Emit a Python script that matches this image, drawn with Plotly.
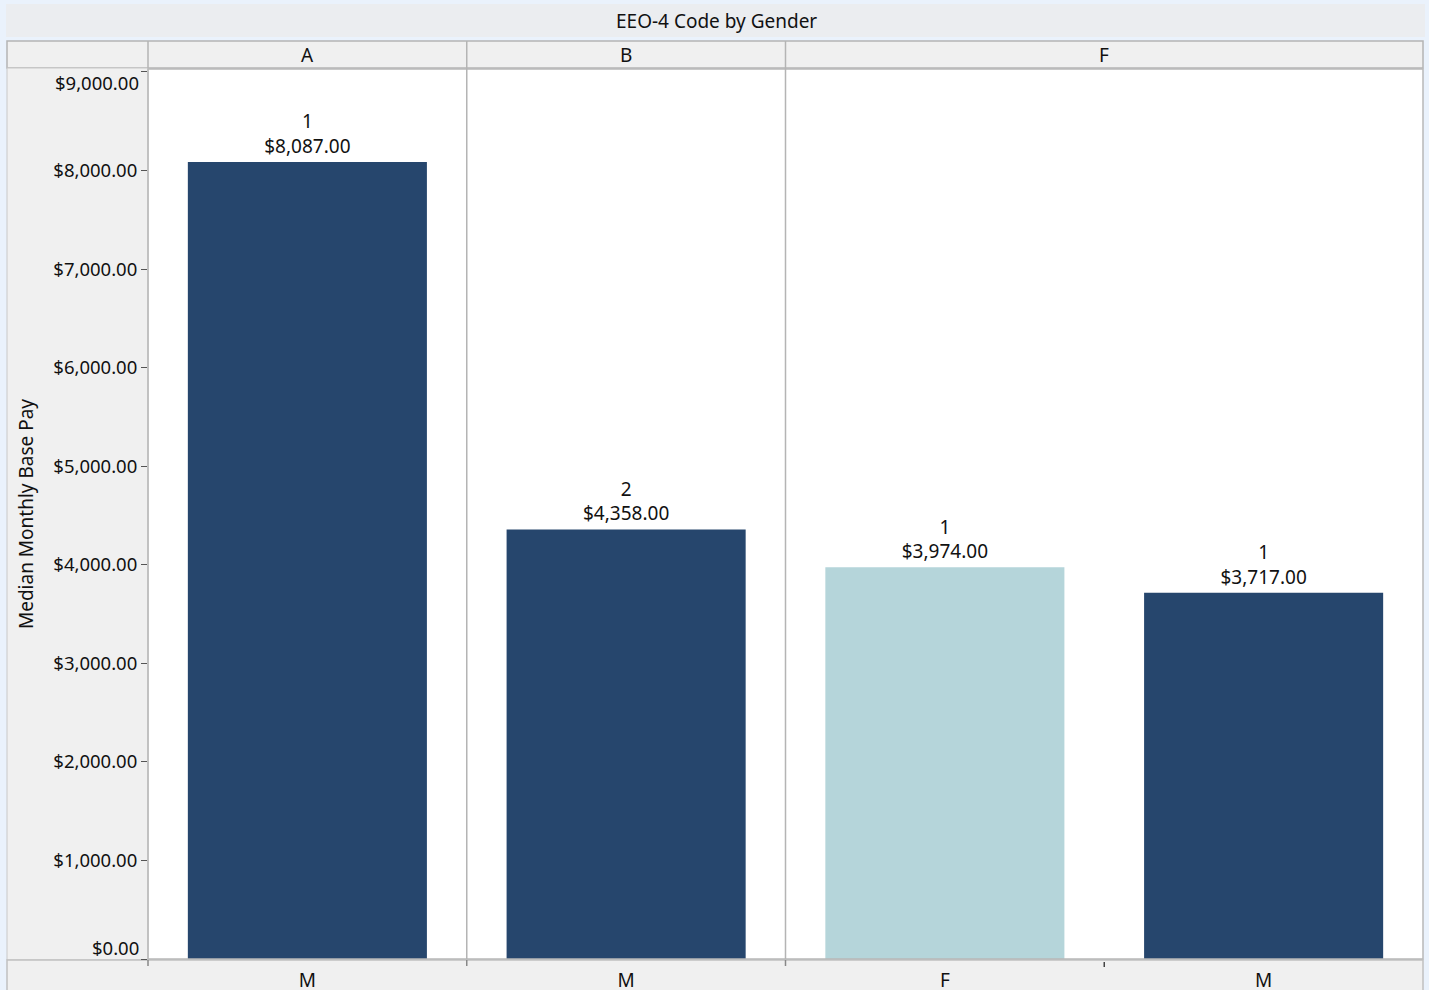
import plotly.graph_objects as go

# ---- data ----
groups = ["A", "B", "F", "F"]
genders = ["M", "M", "F", "M"]
values = [8087.00, 4358.00, 3974.00, 3717.00]
counts = [1, 2, 1, 1]
group_labels = ["A", "B", "F"]
group_centers = [0, 1, 2.5]
y_ticks = [0, 1000, 2000, 3000, 4000, 5000, 6000, 7000, 8000, 9000]

colors = {"M": "#26466d", "F": "#b5d5da"}

W, H = 1429, 990
L, R, T, B = 148, 1423, 69, 959
FONT = "Noto Sans"


def px(xp):
    return (xp - L) / (R - L)


def py(yp):
    return (B - yp) / (B - T)


def money(v):
    return f"${v:,.2f}"


xs = list(range(len(values)))
texts = [f"{c}<br>{money(v)}" for c, v in zip(counts, values)]

# end ticks are drawn as annotations nudged inward (as in the reference)
y_ticktext = ["" if (t == y_ticks[0] or t == y_ticks[-1]) else money(t) for t in y_ticks]

fig = go.Figure()
fig.add_trace(go.Bar(
    x=xs, y=values, width=0.75,
    marker=dict(color=[colors[g] for g in genders], line=dict(width=0)),
    text=texts, textposition="outside", cliponaxis=False,
    textfont=dict(size=19, color="#111111", family=FONT),
    hoverinfo="skip",
))

shapes = []
shapes.append(dict(type="rect", xref="paper", yref="paper", x0=px(6), x1=px(1425), y0=py(37), y1=py(4),
                   fillcolor="#ebedf0", line=dict(width=0), layer="below"))
shapes.append(dict(type="rect", xref="paper", yref="paper", x0=px(7), x1=px(1423), y0=py(68), y1=py(41),
                   fillcolor="#f0f0f0", line=dict(color="#b4b4b4", width=1.5), layer="below"))
shapes.append(dict(type="rect", xref="paper", yref="paper", x0=px(7), x1=px(148), y0=py(960), y1=py(68),
                   fillcolor="#f0f0f0", line=dict(color="#c8c8c8", width=1), layer="below"))
shapes.append(dict(type="rect", xref="paper", yref="paper", x0=px(7), x1=px(1423), y0=py(992), y1=py(960),
                   fillcolor="#f0f0f0", line=dict(color="#c0c0c0", width=1.5), layer="below"))
shapes.append(dict(type="rect", xref="paper", yref="paper", x0=0, x1=1, y0=0, y1=1,
                   line=dict(color="#b8b8b8", width=1.5), fillcolor="rgba(0,0,0,0)", layer="above"))
shapes.append(dict(type="line", xref="paper", yref="paper", x0=px(148), x1=px(148), y0=py(68), y1=py(41),
                   line=dict(color="#b4b4b4", width=1.5)))
for sep in [0.5, 1.5]:
    shapes.append(dict(type="line", xref="x", yref="paper", x0=sep, x1=sep, y0=0, y1=py(41),
                       line=dict(color="#b4b4b4", width=1.5)))
    shapes.append(dict(type="line", xref="x", yref="paper", x0=sep, x1=sep, y0=py(960), y1=py(966),
                       line=dict(color="#888888", width=1.5)))
shapes.append(dict(type="line", xref="paper", yref="paper", x0=px(148), x1=px(148), y0=py(960), y1=py(966),
                   line=dict(color="#888888", width=1.5)))
shapes.append(dict(type="line", xref="x", yref="paper", x0=2.5, x1=2.5, y0=py(962), y1=py(967),
                   line=dict(color="#444444", width=1.5)))

annotations = [dict(text="EEO-4 Code by Gender", xref="paper", yref="paper", x=px(716), y=py(21),
                    xanchor="center", yanchor="middle",
                    showarrow=False, font=dict(size=19, color="#111111", family=FONT))]
for lab, cx in zip(group_labels, group_centers):
    annotations.append(dict(text=lab, xref="x", yref="paper", x=cx, y=py(55), showarrow=False,
                            xanchor="center", yanchor="middle",
                            font=dict(size=19, color="#111111", family=FONT)))
for t, shift in [(y_ticks[-1], -11), (y_ticks[0], 12)]:
    annotations.append(dict(text=money(t), xref="paper", yref="y", x=px(141), y=t, yshift=shift,
                            xanchor="right", yanchor="middle", showarrow=False,
                            font=dict(size=18.5, color="#111111", family=FONT)))

fig.update_layout(
    width=W, height=H,
    margin=dict(l=L, r=W - R, t=T, b=H - B, pad=0, autoexpand=False),
    paper_bgcolor="#eaf2fc", plot_bgcolor="white",
    showlegend=False,
    shapes=shapes, annotations=annotations,
    font=dict(family=FONT, color="#111111"),
    xaxis=dict(range=[-0.5, 3.5], tickvals=xs, ticktext=genders, showgrid=False, zeroline=False,
               ticks="outside", ticklen=4, tickcolor="rgba(0,0,0,0)", automargin=False,
               tickfont=dict(size=19, color="#111111", family=FONT), fixedrange=True),
    yaxis=dict(range=[0, 9030], tickvals=y_ticks, ticktext=y_ticktext, showgrid=False, zeroline=False,
               ticks="outside", ticklen=6, tickcolor="#555555", tickwidth=1, automargin=False,
               tickfont=dict(size=18.5, color="#111111", family=FONT),
               title=dict(text="Median Monthly Base Pay", font=dict(size=19, color="#111111", family=FONT),
                          standoff=14),
               fixedrange=True),
)

fig.write_html("out.html", config={"displayModeBar": False},
               post_script="document.body.style.margin='0';document.body.style.overflow='hidden';")
